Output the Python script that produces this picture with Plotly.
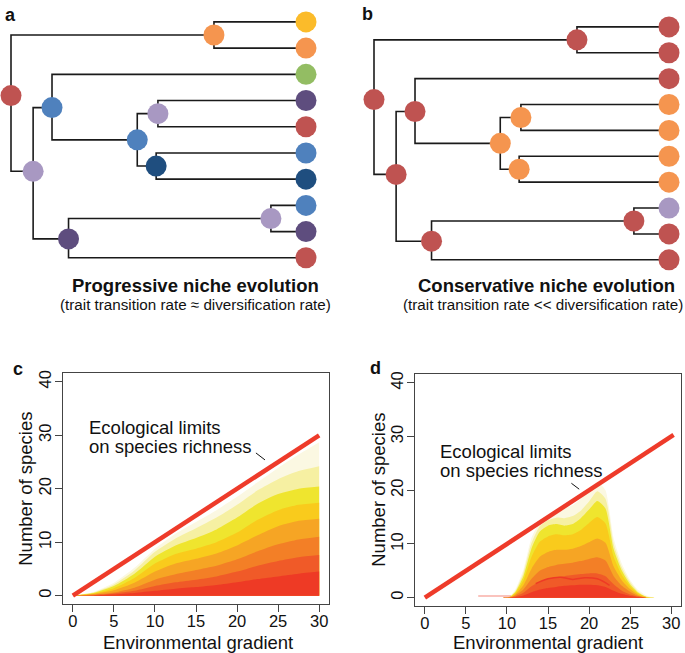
import plotly.graph_objects as go

W, H = 685, 653
FONT = "Arial, Liberation Sans, Helvetica, sans-serif"

# ---------------- tree data (same topology in panels a and b) ----------------
# nodes 0-9 are tips (top to bottom), 10-18 internal nodes
node_depth = [1, 1, 1, 1, 1, 1, 1, 1, 1, 1,
              0.0, 0.688, 0.075, 0.139, 0.428, 0.498, 0.492, 0.195, 0.881]
node_pos = [0, 1, 2, 3, 4, 5, 6, 7, 8, 9,
            2.81, 0.5, 5.70, 3.27, 4.5, 3.5, 5.5, 8.28, 7.5]
node_parent = [11, 11, 13, 15, 15, 16, 16, 18, 18, 17,
               None, 10, 10, 12, 13, 14, 14, 12, 17]

RED = "#BF5351"; ORG = "#F5954F"; YEL = "#FBBB2A"; GRN = "#93BD63"
PUR = "#5E4D7E"; BLU = "#4F81BD"; DBL = "#1F4E7F"; LAV = "#A898C2"
colors_a = [YEL, ORG, GRN, PUR, RED, BLU, DBL, BLU, PUR, RED,
            RED, ORG, LAV, BLU, BLU, LAV, DBL, PUR, LAV]
colors_b = [RED, RED, RED, ORG, ORG, ORG, ORG, LAV, RED, RED,
            RED, RED, RED, RED, ORG, ORG, ORG, RED, RED]

title_a = "Progressive niche evolution"
sub_a = "(trait transition rate \u2248 diversification rate)"
title_b = "Conservative niche evolution"
sub_b = "(trait transition rate << diversification rate)"

# ---------------- simulated richness curves ----------------
band_colors = ["#FBF8E2", "#F6F0A2", "#EFE52E", "#F9CB1C",
               "#F6A524", "#F37F26", "#F05A28", "#EE3A25"]

c_x = [0, 2.5, 5, 7.5, 10, 12.5, 15, 17.5, 20, 22.5, 25, 27.5, 30]
c_faint = [0, 0.7, 2.4, 5.2, 8.8, 11.6, 13.8, 16.0, 18.5, 21.2, 23.9, 26.4, 28.7]
c_pale = [0, 0.6, 2.1, 4.7, 8.2, 10.7, 12.6, 14.6, 17.0, 19.7, 21.8, 23.3, 24.2]
c_yellow = [0, 0.5, 1.8, 4.1, 7.3, 9.4, 10.8, 12.4, 14.6, 17.2, 19.0, 20.0, 20.4]
c_golden = [0, 0.4, 1.4, 3.3, 6.0, 7.8, 8.8, 10.0, 11.8, 14.2, 16.0, 17.0, 17.4]
c_orange = [0, 0.3, 1.0, 2.4, 4.5, 6.0, 6.9, 7.9, 9.4, 11.3, 13.0, 14.0, 14.4]
c_dkorange = [0, 0.2, 0.6, 1.5, 3.0, 4.0, 4.8, 5.6, 6.8, 8.3, 9.6, 10.5, 11.0]
c_redor = [0, 0.1, 0.4, 0.9, 1.8, 2.5, 3.0, 3.6, 4.5, 5.6, 6.5, 7.2, 7.6]
c_red = [0, 0.05, 0.2, 0.5, 0.9, 1.3, 1.6, 2.0, 2.5, 3.1, 3.6, 4.1, 4.5]

d_x = [0, 5, 9.5, 10.3, 11, 12, 13, 14, 15, 16, 17, 18, 19, 20, 21, 22, 23, 24, 25, 26, 27, 28, 30]
d_faint = [0, 0, 0, 0.2, 1.5, 5.2, 11.2, 14.0, 15.0, 16.0, 16.6, 17.2, 18.4, 20.0, 21.6, 20.0, 11.0, 6.3, 3.3, 1.4, 0.4, 0, 0]
d_pale = [0, 0, 0, 0.15, 1.2, 4.6, 10.2, 13.3, 14.4, 14.9, 14.8, 15.2, 16.2, 17.9, 19.8, 18.4, 10.0, 5.6, 2.9, 1.1, 0.2, 0, 0]
d_yellow = [0, 0, 0, 0.1, 1.0, 4.0, 9.2, 12.3, 13.4, 13.7, 13.4, 13.7, 14.8, 16.4, 18.0, 16.6, 9.0, 5.0, 2.5, 0.9, 0.1, 0, 0]
d_golden = [0, 0, 0, 0.08, 0.8, 3.2, 7.6, 10.4, 11.4, 11.8, 11.6, 11.8, 12.6, 13.9, 15.0, 13.8, 7.6, 4.2, 2.1, 0.7, 0.1, 0, 0]
d_orange = [0, 0, 0, 0.05, 0.6, 2.3, 5.4, 7.6, 8.5, 8.9, 8.9, 9.1, 9.6, 10.3, 11.0, 10.2, 5.8, 3.2, 1.6, 0.5, 0, 0, 0]
d_dkorange = [0, 0, 0, 0.03, 0.4, 1.5, 3.5, 5.0, 5.7, 6.1, 6.3, 6.5, 6.8, 7.2, 7.5, 6.9, 4.0, 2.2, 1.1, 0.3, 0, 0, 0]
d_redor = [0, 0, 0, 0.02, 0.2, 0.9, 2.1, 3.0, 3.5, 3.8, 4.0, 4.2, 4.4, 4.5, 4.5, 4.0, 2.5, 1.3, 0.6, 0.2, 0, 0, 0]
d_red = [0, 0, 0, 0.01, 0.1, 0.4, 1.0, 1.5, 1.8, 2.0, 2.2, 2.3, 2.4, 2.4, 2.3, 2.0, 1.3, 0.7, 0.3, 0.1, 0, 0, 0]

# stray single simulations visible in panel d
d_stray_x = [6.5, 8.5, 10.5]
d_stray_y = [0.3, 0.3, 0.3]
d_arc_x = [13.5, 15, 16.5, 18, 19.5, 21, 22.5]
d_arc_y = [2.6, 3.5, 3.8, 3.4, 3.7, 3.5, 2.3]

limit_x_c = [0, 30]
limit_y_c = [0, 30]
limit_x_d = [0, 30.3]
limit_y_d = [0, 30.3]

x_ticks = [0, 5, 10, 15, 20, 25, 30]
y_ticks = [0, 10, 20, 30, 40]
x_title = "Environmental gradient"
y_title = "Number of species"
eco_line1 = "Ecological limits"
eco_line2 = "on species richness"

LIMIT_COLOR = "#EE3B2A"

fig = go.Figure()


def px_dom_x(a, b):
    return [a / W, b / W]


def px_dom_y(top, bot):
    return [1 - bot / H, 1 - top / H]


def add_tree(colors, xa, ya):
    ex, ey = [], []
    for n, p in enumerate(node_parent):
        if p is None:
            continue
        ex += [node_depth[p], node_depth[p], node_depth[n], None]
        ey += [node_pos[p], node_pos[n], node_pos[n], None]
    fig.add_trace(go.Scatter(x=ex, y=ey, mode="lines", xaxis=xa, yaxis=ya,
                             line=dict(color="#1a1a1a", width=1.6),
                             hoverinfo="skip", showlegend=False, cliponaxis=False))
    fig.add_trace(go.Scatter(x=node_depth, y=node_pos, mode="markers", xaxis=xa, yaxis=ya,
                             marker=dict(size=21, color=colors, line=dict(width=0)),
                             showlegend=False, cliponaxis=False))


add_tree(colors_a, "x", "y")
add_tree(colors_b, "x2", "y2")


def add_bands(xs, bands, xa, ya):
    for vals, col in zip(bands, band_colors):
        fig.add_trace(go.Scatter(x=xs, y=vals, mode="lines", fill="tozeroy",
                                 fillcolor=col, xaxis=xa, yaxis=ya,
                                 line=dict(width=0, color=col, shape="spline", smoothing=0.6),
                                 hoverinfo="skip", showlegend=False))


add_bands(c_x, [c_faint, c_pale, c_yellow, c_golden, c_orange, c_dkorange, c_redor, c_red], "x3", "y3")
add_bands(d_x, [d_faint, d_pale, d_yellow, d_golden, d_orange, d_dkorange, d_redor, d_red], "x4", "y4")

fig.add_trace(go.Scatter(x=d_stray_x, y=d_stray_y, mode="lines", xaxis="x4", yaxis="y4",
                         line=dict(color="#F5877C", width=1.2), showlegend=False))
fig.add_trace(go.Scatter(x=d_arc_x, y=d_arc_y, mode="lines", xaxis="x4", yaxis="y4",
                         line=dict(color="#EE3A25", width=1.5, shape="spline"), showlegend=False))

fig.add_trace(go.Scatter(x=limit_x_c, y=limit_y_c, mode="lines", xaxis="x3", yaxis="y3",
                         line=dict(color=LIMIT_COLOR, width=4.5), showlegend=False, cliponaxis=False))
fig.add_trace(go.Scatter(x=limit_x_d, y=limit_y_d, mode="lines", xaxis="x4", yaxis="y4",
                         line=dict(color=LIMIT_COLOR, width=4.5), showlegend=False, cliponaxis=False))

hidden = dict(visible=False, showgrid=False, zeroline=False, fixedrange=True)

# tree a: depth 0 -> px 11, depth 1 -> px 306 ; tip i -> py 19 + 26.33 i
fig.update_layout(
    xaxis=dict(domain=px_dom_x(0, 340), range=[(0 - 11) / 295, (340 - 11) / 295], **hidden),
    yaxis=dict(domain=px_dom_y(0, 270), range=[(270 - 19) / 26.33, (0 - 19) / 26.33], **hidden),
    xaxis2=dict(domain=px_dom_x(345, 685), range=[(345 - 374) / 295, (685 - 374) / 295], **hidden),
    yaxis2=dict(domain=px_dom_y(0, 270), range=[(270 - 24) / 26.0, (0 - 24) / 26.0], **hidden),
)

axis_common = dict(showline=True, mirror=True, linecolor="#444", linewidth=1,
                   ticks="outside", ticklen=7, tickwidth=1, tickcolor="#444",
                   showgrid=False, zeroline=False,
                   tickfont=dict(family=FONT, size=16.5, color="#111"))

fig.update_layout(
    xaxis3=dict(domain=px_dom_x(63, 329), range=[-1.2, 31.2], tickvals=x_ticks, anchor="y3",
                ticklabelstandoff=-5, **axis_common),
    yaxis3=dict(domain=px_dom_y(372, 604), range=[-1.6, 41.6], tickvals=y_ticks, anchor="x3",
                tickangle=-90, ticklabelstandoff=-3, **axis_common),
    xaxis4=dict(domain=px_dom_x(415, 681), range=[-1.2, 31.2], tickvals=x_ticks, anchor="y4",
                ticklabelstandoff=-5, **axis_common),
    yaxis4=dict(domain=px_dom_y(373, 606), range=[-1.6, 41.6], tickvals=y_ticks, anchor="x4",
                tickangle=-90, ticklabelstandoff=-3, **axis_common),
)

ann = []


def paper_text(text, px, py, size, bold=False, angle=0, color="#111"):
    ann.append(dict(text=("<b>%s</b>" % text) if bold else text, x=px / W, y=1 - py / H,
                    xref="paper", yref="paper", xanchor="center", yanchor="middle",
                    showarrow=False, textangle=angle,
                    font=dict(family=FONT, size=size, color=color)))


paper_text("a", 10, 12, 18, bold=True)
paper_text("b", 367, 11.5, 18, bold=True)
paper_text("c", 18, 368, 18, bold=True)
paper_text("d", 375, 367, 18, bold=True)

paper_text(title_a, 196, 283.5, 18.5, bold=True)
paper_text(sub_a, 196, 303, 15.2)
paper_text(title_b, 546, 283.5, 18.5, bold=True)
paper_text(sub_b, 543, 303, 15.2)

paper_text(x_title, 198, 642, 18.5)
paper_text(x_title, 548, 642, 18.5)
paper_text(y_title, 26, 488, 18.5, angle=-90)
paper_text(y_title, 379, 489, 18.5, angle=-90)

for xa, ya, x0, y1, y2 in [("x3", "y3", 1.7, 31.4, 27.9), ("x4", "y4", 1.6, 27.3, 23.6)]:
    for t, yy in [(eco_line1, y1), (eco_line2, y2)]:
        ann.append(dict(text=t, x=x0, y=yy, xref=xa, yref=ya, xanchor="left", yanchor="middle",
                        showarrow=False, font=dict(family=FONT, size=18.5, color="#111")))

shapes = [
    dict(type="line", xref="x3", yref="y3", x0=22.3, y0=26.7, x1=23.4, y1=25.4,
         line=dict(color="#111", width=1)),
    dict(type="line", xref="x4", yref="y4", x0=17.85, y0=21.3, x1=18.8, y1=20.2,
         line=dict(color="#111", width=1)),
]

fig.update_layout(width=W, height=H, margin=dict(l=0, r=0, t=0, b=0),
                  paper_bgcolor="white", plot_bgcolor="rgba(0,0,0,0)",
                  showlegend=False, annotations=ann, shapes=shapes)

fig.write_html("out.html", config={"displayModeBar": False},
               post_script="document.body.style.margin='0';")
